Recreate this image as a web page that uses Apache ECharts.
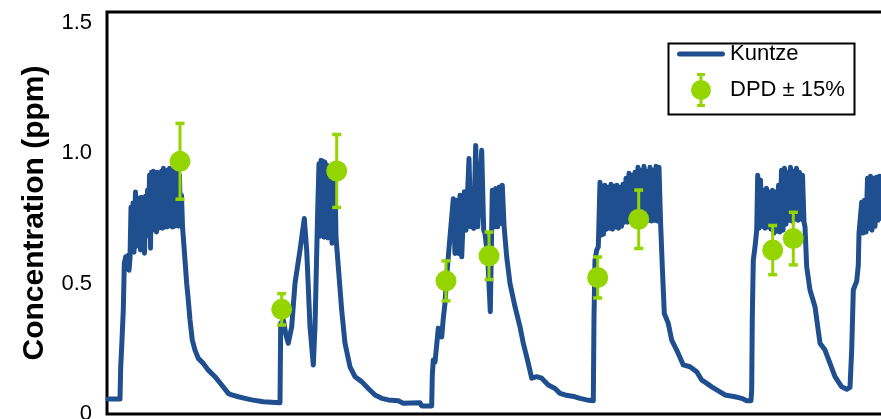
<!DOCTYPE html>
<html>
<head>
<meta charset="utf-8">
<script src="https://cdn.jsdelivr.net/npm/echarts@6/dist/echarts.min.js"></script>
<style>
  html, body { margin: 0; padding: 0; background: #ffffff; }
  #chart { width: 881px; height: 419px; }
</style>
</head>
<body>
<div id="chart"></div>
<script>
// ---- data (time index, concentration in ppm) ----
const kuntzeTime = [
  1, 13, 13.7, 14.7, 16.3, 17.3, 18.7, 20, 21.3, 22, 23, 24, 25, 26, 27, 28.5, 29.5, 30.5, 31.5, 32.5,
  33.5, 34.5, 35.5, 36.5, 37.5, 38.5, 39.5, 40.5, 41.5, 42.5, 43.5, 44.5, 45.5, 46.5, 47.5, 48.5, 49.5, 50.5, 51.5, 52.5,
  53.5, 54.5, 55.5, 56.5, 57.5, 58.5, 59.5, 60.5, 61.5, 62.5, 63.5, 64.5, 65.5, 66.5, 67.5, 68.5, 69.5, 70.5, 71.5, 72.5,
  73.5, 74.5, 75.5, 76.3, 78, 79.7, 81.3, 83, 85.3, 88, 91.3, 96.3, 101.3, 108, 114.7, 121.3, 124.7, 131.3, 138, 144.7,
  156.3, 173, 173.7, 176.3, 179, 181.3, 184.7, 188, 193, 197.3, 199.7, 203, 206.3, 208, 210.7, 212, 213, 214, 215, 216,
  217, 218, 219, 220, 221, 222, 223, 224, 225, 226, 227, 228, 229, 231.3, 234.7, 238, 243, 248, 254.7, 261.3,
  268, 274.7, 281.3, 291.3, 296.3, 313, 314.7, 324.7, 325.3, 326.3, 328, 329.7, 331.3, 333, 334.7, 336.3, 338, 339.7, 341.3, 343,
  346.3, 348, 349.7, 351.3, 353, 354.7, 357.3, 359, 362, 363.7, 365, 366.7, 368.7, 370.7, 372.7, 374.7, 376.7, 378, 380.7, 383.3,
  385.3, 387.3, 388.7, 390.7, 392.3, 394, 395.3, 397, 399.7, 403, 408, 413, 416.3, 421.3, 424.7, 429.7, 434.7, 441.3, 448, 453,
  458, 468, 473, 479.7, 486.3, 487, 488, 489.7, 491.3, 493, 494, 495, 496.5, 498, 499.5, 501, 502.5, 504, 505.5, 507,
  508.5, 510, 511.5, 513, 514.5, 516, 517.5, 519, 520.5, 522, 523.5, 525, 526.5, 528, 529.5, 531, 532.5, 534, 535.5, 537,
  538.5, 540, 541.5, 543, 544.5, 546, 547.5, 549, 550.5, 552, 553.5, 555.3, 557.3, 561.3, 564.7, 569.7, 576.3, 583, 589.7, 594.7,
  598, 604.7, 613, 618, 628, 634.7, 639.7, 644, 644.7, 645.3, 646.3, 648, 649.7, 650.7, 652, 653.5, 655, 656.5, 658, 659.5,
  661, 662.5, 664, 665.5, 667, 668.5, 670, 671.5, 673, 674.5, 676, 677.5, 679, 680.5, 682, 683.5, 685, 686.5, 688, 689.5,
  691, 692.5, 694, 695.5, 697, 698, 699.7, 703, 708, 713, 718, 723, 728, 734.7, 739.7, 743, 744.7, 746.3, 749.7, 751.3,
  752, 754.7, 756, 757.5, 759, 760.5, 762, 763.5, 765, 766.5, 768, 769.5, 771, 772.5, 774, 775.5, 777
];
const kuntzePpm = [
  0.057, 0.057, 0.181, 0.258, 0.398, 0.577, 0.602, 0.582, 0.608, 0.551, 0.597, 0.792, 0.635, 0.808, 0.620, 0.850, 0.643, 0.819, 0.666, 0.827,
  0.628, 0.830, 0.651, 0.827, 0.616, 0.834, 0.681, 0.857, 0.697, 0.915, 0.635, 0.926, 0.704, 0.930, 0.708, 0.915, 0.697, 0.926, 0.712, 0.918,
  0.719, 0.930, 0.712, 0.941, 0.719, 0.926, 0.716, 0.934, 0.719, 0.941, 0.723, 0.926, 0.716, 0.934, 0.719, 0.922, 0.723, 0.926, 0.719, 0.915,
  0.723, 0.838, 0.719, 0.717, 0.589, 0.500, 0.436, 0.360, 0.283, 0.245, 0.213, 0.194, 0.168, 0.143, 0.111, 0.079, 0.073, 0.066, 0.060, 0.054,
  0.047, 0.043, 0.347, 0.360, 0.302, 0.271, 0.334, 0.500, 0.628, 0.749, 0.628, 0.334, 0.188, 0.334, 0.781, 0.959, 0.681, 0.972, 0.685, 0.968,
  0.677, 0.964, 0.681, 0.953, 0.674, 0.941, 0.681, 0.934, 0.654, 0.926, 0.674, 0.915, 0.677, 0.564, 0.398, 0.271, 0.181, 0.143, 0.124, 0.098,
  0.073, 0.060, 0.054, 0.051, 0.041, 0.043, 0.031, 0.031, 0.149, 0.207, 0.199, 0.264, 0.329, 0.333, 0.295, 0.367, 0.424, 0.525, 0.602, 0.679,
  0.825, 0.615, 0.819, 0.615, 0.838, 0.602, 0.851, 0.704, 0.979, 0.717, 0.845, 0.711, 1.029, 0.717, 0.845, 1.010, 0.704, 0.692, 0.602, 0.392,
  0.857, 0.717, 0.864, 0.717, 0.870, 0.730, 0.876, 0.723, 0.602, 0.500, 0.411, 0.334, 0.271, 0.194, 0.137, 0.143, 0.137, 0.111, 0.098, 0.079,
  0.073, 0.066, 0.060, 0.054, 0.051, 0.372, 0.589, 0.628, 0.640, 0.888, 0.685, 0.873, 0.689, 0.876, 0.708, 0.869, 0.712, 0.880, 0.708, 0.873,
  0.716, 0.876, 0.712, 0.869, 0.719, 0.880, 0.735, 0.903, 0.735, 0.922, 0.739, 0.915, 0.735, 0.926, 0.739, 0.945, 0.735, 0.934, 0.742, 0.949,
  0.739, 0.930, 0.742, 0.945, 0.739, 0.934, 0.742, 0.949, 0.739, 0.945, 0.742, 0.564, 0.385, 0.347, 0.283, 0.245, 0.188, 0.181, 0.162, 0.130,
  0.122, 0.104, 0.085, 0.073, 0.066, 0.060, 0.051, 0.051, 0.092, 0.372, 0.589, 0.640, 0.704, 0.915, 0.712, 0.896, 0.719, 0.857, 0.712, 0.865,
  0.716, 0.850, 0.708, 0.857, 0.693, 0.850, 0.700, 0.876, 0.697, 0.934, 0.704, 0.941, 0.727, 0.926, 0.742, 0.945, 0.739, 0.930, 0.746, 0.941,
  0.742, 0.926, 0.746, 0.915, 0.735, 0.717, 0.564, 0.475, 0.411, 0.271, 0.245, 0.194, 0.143, 0.104, 0.095, 0.102, 0.245, 0.475, 0.509, 0.570,
  0.693, 0.811, 0.693, 0.819, 0.697, 0.903, 0.712, 0.911, 0.704, 0.903, 0.719, 0.907, 0.742, 0.911, 0.750, 0.903, 0.750
];
const dpdTime = [73, 174.7, 229.7, 339, 382, 490.7, 531.7, 665.7, 686.3];
const dpdPpm  = [0.968, 0.401, 0.931, 0.510, 0.606, 0.523, 0.746, 0.628, 0.672];
const dpdErrorFraction = 0.15;   // "DPD ± 15%"
const yTickLabels = ['0', '0.5', '1.0', '1.5'];
const seriesNames = ['Kuntze', 'DPD ± 15%'];
const yAxisTitle = 'Concentration (ppm)';

// ---- styling ----
const BLUE = '#1f4f8e';
const GREEN = '#94d500';
const SANS = "'Liberation Sans', Arial, sans-serif";

const kuntzeData = kuntzeTime.map((t, i) => [t, kuntzePpm[i]]);
const dpdData = dpdTime.map((t, i) => [t, dpdPpm[i]]);
const errData = dpdTime.map((t, i) => [t, dpdPpm[i] * (1 - dpdErrorFraction), dpdPpm[i] * (1 + dpdErrorFraction)]);

// legend icons (48 x 34 boxes; tiny corner dots fix the bounding box)
const lineIcon = 'path://M0,0L0.01,0L0.01,0.01Z M0,34L0.01,34L0.01,33.99Z ' +
  'M2.5,14.5H45.5A2.5,2.5,0,0,1,45.5,19.5H2.5A2.5,2.5,0,0,1,2.5,14.5Z';
const dpdIcon = 'path://M0,17L0.01,17L0.01,17.01Z M47.99,17L48,17L48,17.01Z ' +
  'M20,0H28V3H25.5V31H28V34H20V31H22.5V3H20Z ' +
  'M14,17A10,10,0,1,1,34,17A10,10,0,1,1,14,17Z';

const chart = echarts.init(document.getElementById('chart'), null, { renderer: 'canvas' });
chart.setOption({
  animation: false,
  backgroundColor: '#ffffff',
  grid: {
    left: 107, top: 12, width: 800, height: 402,
    outerBoundsMode: 'none', containLabel: false,
    show: true, borderColor: '#000000', borderWidth: 3, backgroundColor: 'transparent'
  },
  xAxis: {
    type: 'value', min: 0, max: 800, show: false
  },
  yAxis: {
    type: 'value', min: 0, max: 1.54, interval: 0.5,
    axisLine: { show: false }, axisTick: { show: false }, splitLine: { show: false },
    axisLabel: {
      color: '#000', fontSize: 22, fontFamily: SANS, margin: 15,
      formatter: function (v) { const k = Math.round(v / 0.5); return yTickLabels[k] !== undefined ? yTickLabels[k] : ''; }
    },
    name: yAxisTitle, nameLocation: 'middle', nameRotate: 90, nameGap: 57,
    nameTextStyle: { color: '#000', fontSize: 30, fontWeight: 'bold', fontFamily: SANS }
  },
  legend: {
    orient: 'vertical', left: 677, top: 37, padding: 0,
    itemWidth: 48, itemHeight: 34, itemGap: 2,
    textStyle: { color: '#000', fontSize: 22, fontFamily: SANS },
    data: [
      { name: seriesNames[0], icon: lineIcon },
      { name: seriesNames[1], icon: dpdIcon }
    ]
  },
  graphic: [{
    type: 'rect', left: 666, top: 41, z: 100,
    shape: { width: 186, height: 71 },
    style: { fill: null, stroke: '#000', lineWidth: 2 }
  }],
  series: [
    {
      name: seriesNames[0], type: 'line', data: kuntzeData, symbol: 'none', z: 2,
      lineStyle: { color: BLUE, width: 5, join: 'round', cap: 'round' },
      itemStyle: { color: BLUE }
    },
    {
      name: seriesNames[1], type: 'custom', z: 3, data: errData,
      encode: { x: 0, y: [1, 2] },
      renderItem: function (params, api) {
        const x = api.value(0);
        const lo = api.coord([x, api.value(1)]);
        const hi = api.coord([x, api.value(2)]);
        const cw = 4.5;
        const st = { stroke: GREEN, lineWidth: 3, fill: null };
        return {
          type: 'group', children: [
            { type: 'line', shape: { x1: lo[0], y1: lo[1], x2: hi[0], y2: hi[1] }, style: st },
            { type: 'line', shape: { x1: lo[0] - cw, y1: lo[1], x2: lo[0] + cw, y2: lo[1] }, style: { stroke: GREEN, lineWidth: 3.5 } },
            { type: 'line', shape: { x1: hi[0] - cw, y1: hi[1], x2: hi[0] + cw, y2: hi[1] }, style: { stroke: GREEN, lineWidth: 3.5 } }
          ]
        };
      },
      itemStyle: { color: GREEN }
    },
    {
      name: seriesNames[1], type: 'scatter', data: dpdData, z: 4,
      symbol: 'circle', symbolSize: 21,
      itemStyle: { color: GREEN, opacity: 1 }
    }
  ]
});
</script>
</body>
</html>
